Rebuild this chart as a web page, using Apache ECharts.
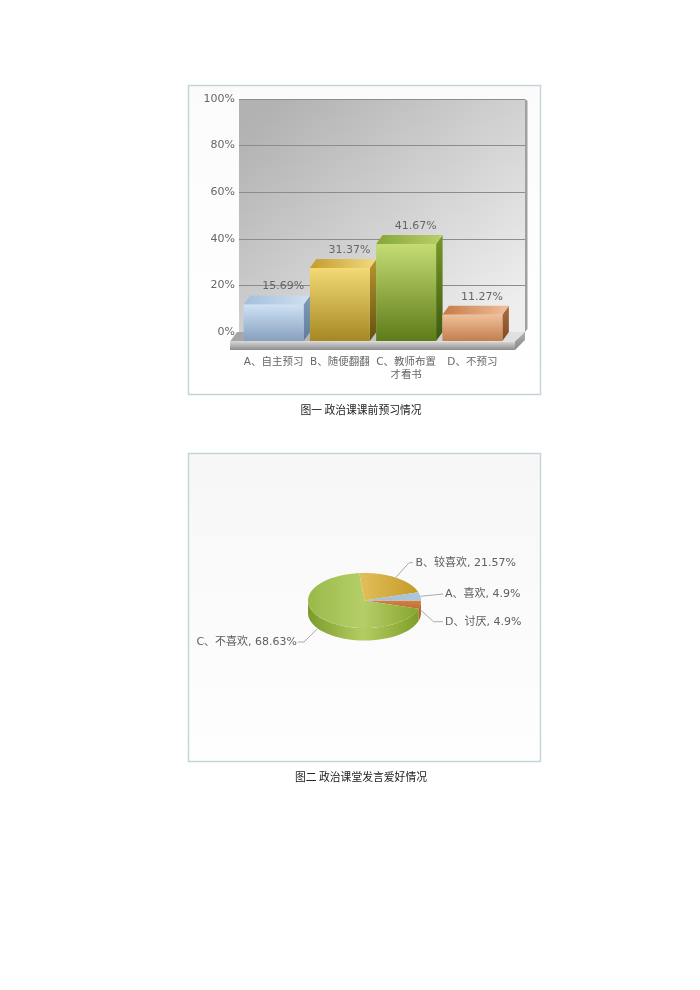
<!DOCTYPE html>
<html><head><meta charset="utf-8">
<style>html,body{margin:0;padding:0;background:#fff}#c{width:700px;height:990px}</style>
<script src="https://cdn.jsdelivr.net/npm/echarts@6/dist/echarts.min.js"></script>
</head><body><div id="c"></div>
<script>
const barCategories = ['A、自主预习', 'B、随便翻翻', 'C、教师布置\n才看书', 'D、不预习'];
const barValues = [15.69, 31.37, 41.67, 11.27];
const yTicks = [0, 20, 40, 60, 80, 100];
const pieNames = ['D、讨厌', 'C、不喜欢', 'B、较喜欢', 'A、喜欢'];
const pieValues = [4.9, 68.63, 21.57, 4.9];
const captions = ['图一 政治课课前预习情况', '图二 政治课堂发言爱好情况'];

const FONT = '"DejaVu Sans","Noto Sans CJK SC",sans-serif';
const lg = (x, y, x2, y2, a, b, c) => ({type:'linear', x, y, x2, y2, colorStops: c
  ? [{offset:0,color:a},{offset:.5,color:b},{offset:1,color:c}]
  : [{offset:0,color:a},{offset:1,color:b}]});
const barStyles = [
  {front:lg(0,0,0,1,'#cfe2f6','#86a0bd'), top:lg(0,0,1,0,'#a4bfdc','#cfe0f0'), side:lg(0,0,0,1,'#7f9cb9','#5f7d9b')},
  {front:lg(0,0,0,1,'#f3da74','#a58824'), top:lg(0,0,1,0,'#c39c2c','#f2da84'), side:lg(0,0,0,1,'#b8952c','#665010')},
  {front:lg(0,0,0,1,'#c5dc74','#5d7b18'), top:lg(0,0,1,0,'#86a636','#b9d06c'), side:lg(0,0,0,1,'#76982a','#3d5a0e')},
  {front:lg(0,0,0,1,'#f0c09a','#c27e4e'), top:lg(0,0,1,0,'#c67a44','#efc09e'), side:lg(0,0,0,1,'#b06e3e','#7c4a20')}
];
const DX = 6.5, DY = 9;

function renderBar(params, api) {
  const i = api.value(0), v = api.value(1);
  const top = api.coord([i, v]), base = api.coord([i, 0]);
  const w = api.size([1, 0])[0] * 0.905;
  const x0 = top[0] - w / 2, x1 = top[0] + w / 2, y = top[1], b = base[1];
  const s = barStyles[i];
  const poly = (points, fill) => ({type:'polygon', shape:{points}, style:{fill}});
  return {type:'group', children:[
    poly([[x1,y],[x1+DX,y-DY],[x1+DX,b-DY],[x1,b]], s.side),
    poly([[x0,y],[x1,y],[x1+DX,y-DY],[x0+DX,y-DY]], s.top),
    {type:'rect', shape:{x:x0,y:y,width:w,height:b-y}, style:{fill:s.front}},
    {type:'text', style:{x:top[0]+9.5, y:y-18, text:v.toFixed(2)+'%', fill:'#666', font:'11px '+FONT, align:'center', verticalAlign:'middle'}}
  ]};
}

const CX = 364.5, CY = 600.5, RX = 56.5, RY = 27.5, THICK = 12.5;
const sliceTop = [lg(0,0,0,1,'#d2813f','#c06c38'), lg(0,0,1,0,'#9ab94a','#b5cf68','#86a530'), lg(0,0,1,0,'#e3bf5c','#c49a28'), lg(0,0,1,0,'#a2bcd8','#aec6dc')];
const sliceSide = ['#b2662a', lg(1,0,0,0,'#7f9e28','#b4cd62','#7c9a2c'), '#b08a20', '#8aa4c0'];
const pt = (t, dy) => [CX + RX * Math.cos(t), CY + RY * Math.sin(t) + (dy || 0)];
function renderPie(params, api) {
  const i = params.dataIndex;
  const total = pieValues.reduce((a, b) => a + b, 0);
  const before = pieValues.slice(0, i).reduce((a, b) => a + b, 0);
  const a0 = before / total * 2 * Math.PI, a1 = (before + api.value(0)) / total * 2 * Math.PI;
  const pts = [[CX, CY]];
  for (let k = 0; k <= 48; k++) pts.push(pt(a0 + (a1 - a0) * k / 48));
  const children = [];
  const sEnd = Math.min(a1, Math.PI);
  if (a0 < Math.PI) {
    const up = [], low = [];
    for (let k = 0; k <= 48; k++) { const t = a0 + (sEnd - a0) * k / 48; up.push(pt(t)); low.unshift(pt(t, THICK)); }
    children.push({type:'polygon', z2:1, shape:{points:up.concat(low)}, style:{fill:sliceSide[i]}});
  }
  children.push({type:'polygon', z2:2, shape:{points:pts}, style:{fill:sliceTop[i]}});
  const mid = (a0 + a1) / 2, s = pt(mid);
  const label = pieNames[i] + ', ' + api.value(0) + '%';
  let line, tx, ty, align = 'left';
  if (i === 0) { s[1] += 5; line = [s, [433.5, 621.7], [443, 621.7]]; tx = 445; ty = 621.7; }
  if (i === 1) { s[0] -= 3; s[1] += 11; line = [s, [304, 642], [298, 642]]; tx = 297; ty = 642; align = 'right'; }
  if (i === 2) { line = [s, [409, 562.7], [413, 562.7]]; tx = 415.5; ty = 562.7; }
  if (i === 3) { line = [s, [443, 594]]; tx = 445; ty = 594; }
  children.push({type:'polyline', z2:3, shape:{points:line}, style:{stroke:'#aaa', lineWidth:1, fill:null}});
  children.push({type:'text', z2:3, style:{x:tx, y:ty, text:label, fill:'#5f5f5f', font:'11px '+FONT, align, verticalAlign:'middle'}});
  return {type:'group', children};
}

const chart = echarts.init(document.getElementById('c'), null, {renderer:'canvas'});
chart.setOption({
  animation:false,
  backgroundColor:'#fff',
  graphic:[
    {type:'rect', z:-2, shape:{x:188.5,y:85.5,width:352,height:309}, style:{fill:lg(0,0,0,1,'#fbfbfb','#ffffff'), stroke:'#c3d5db', lineWidth:1.4}},
    {type:'rect', z:-2, shape:{x:188.5,y:453.5,width:352,height:308}, style:{fill:lg(0,0,0,1,'#f7f7f7','#fefefe'), stroke:'#c3d5db', lineWidth:1.4}},
    {type:'polygon', z:3, shape:{points:[[525,99],[527.5,101],[527.5,329],[525,332]]}, style:{fill:'#a0a0a0'}},
    {type:'polygon', z:3, shape:{points:[[230,341.5],[515,341.5],[525,332],[237,332]]}, style:{fill:lg(0,0,1,0,'#a5a5a5','#e2e2e2')}},
    {type:'rect', z:3, shape:{x:230,y:341.5,width:285,height:8.5}, style:{fill:lg(0,0,0,1,'#d6d6d6','#8c8c8c')}},
    {type:'polygon', z:3, shape:{points:[[515,341.5],[525,332],[525,340],[515,350]]}, style:{fill:lg(0,0,0,1,'#b0b0b0','#888888')}},
    {type:'text', z:3, style:{x:361,y:410,text:captions[0],fill:'#222',font:'10.8px "Noto Sans CJK SC"',align:'center',verticalAlign:'middle'}},
    {type:'text', z:3, style:{x:361,y:777,text:captions[1],fill:'#222',font:'10.8px "Noto Sans CJK SC"',align:'center',verticalAlign:'middle'}}
  ],
  grid:[
    {left:239, width:286, top:99, height:233, show:true, borderWidth:0, z:0,
     backgroundColor:{type:'linear',x:0.15,y:0,x2:0.85,y2:1,colorStops:[{offset:0,color:'#b2b2b2'},{offset:1,color:'#eeeeee'}]}},
    {left:240.5, width:265, top:108, height:233, z:1}
  ],
  xAxis:[
    {gridIndex:0, type:'value', min:0, max:1, show:false},
    {gridIndex:1, type:'category', data:barCategories, axisLine:{show:false}, axisTick:{show:false}, splitLine:{show:false},
     axisLabel:{color:'#666', fontSize:10.5, fontFamily:FONT, margin:15, lineHeight:13, interval:0, verticalAlign:'top'}}
  ],
  yAxis:[
    {gridIndex:0, type:'value', min:yTicks[0], max:yTicks[yTicks.length-1], interval:yTicks[1]-yTicks[0],
     axisLine:{show:false}, axisTick:{show:false},
     axisLabel:{color:'#666', fontSize:11, fontFamily:FONT, margin:4, formatter:'{value}%'},
     splitLine:{show:true, lineStyle:{color:'#8c8c8c', width:1}}},
    {gridIndex:1, type:'value', min:0, max:100, show:false}
  ],
  series:[
    {type:'custom', name:'bars', xAxisIndex:1, yAxisIndex:1, z:5, renderItem:renderBar, clip:false,
     encode:{x:0,y:1}, data:barValues.map((v,i)=>[i,v])},
    {type:'custom', name:'pie', coordinateSystem:'none', z:5, renderItem:renderPie,
     encode:{value:0}, data:pieValues.map(v=>[v])}
  ]
});
</script></body></html>
